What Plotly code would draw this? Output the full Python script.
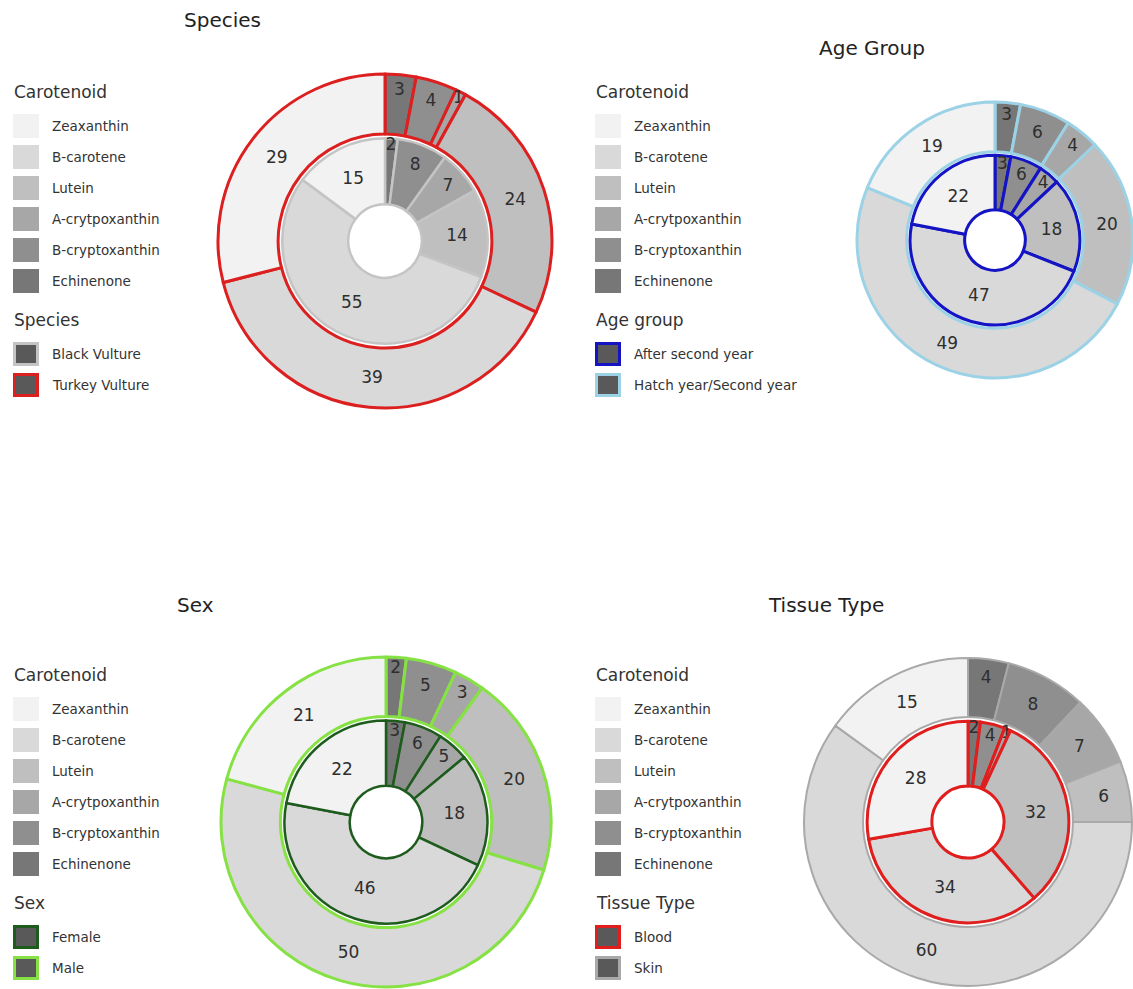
import plotly.graph_objects as go

W, H = 1133, 989
FONT = "DejaVu Sans, Verdana, sans-serif"

# Carotenoids in clockwise drawing order (starting at 12 o'clock)
carotenoids = ["Echinenone", "B-cryptoxanthin", "A-crytpoxanthin", "Lutein", "B-carotene", "Zeaxanthin"]
carotenoid_colors = ["#777777", "#8F8F8F", "#A7A7A7", "#BFBFBF", "#D9D9D9", "#F2F2F2"]

# Percent composition per group (same order as carotenoids)
species_black = [2, 8, 7, 14, 55, 15]
species_turkey = [3, 4, 1, 24, 39, 29]
age_after_second = [3, 6, 4, 18, 47, 22]
age_hatch_second = [3, 6, 4, 20, 49, 19]
sex_female = [3, 6, 5, 18, 46, 22]
sex_male = [2, 5, 3, 20, 50, 21]
tissue_blood = [2, 4, 1, 32, 34, 28]
tissue_skin = [4, 8, 7, 6, 60, 15]

panels = [
    dict(title="Species", title_xy=(222, 20), legend_title="Species",
         center=(385, 241), radius=167, legend_x=12, legend_y=92,
         inner=dict(name="Black Vulture", values=species_black, color="#C4C4C4", width=2.5),
         outer=dict(name="Turkey Vulture", values=species_turkey, color="#DC1F1F", width=3)),
    dict(title="Age Group", title_xy=(872, 48), legend_title="Age group",
         center=(995, 240), radius=138, legend_x=594, legend_y=92,
         inner=dict(name="After second year", values=age_after_second, color="#1414C4", width=3),
         outer=dict(name="Hatch year/Second year", values=age_hatch_second, color="#9CD2E6", width=3)),
    dict(title="Sex", title_xy=(195, 605), legend_title="Sex",
         center=(386, 822), radius=165, legend_x=12, legend_y=675,
         inner=dict(name="Female", values=sex_female, color="#1E5C1E", width=2.5),
         outer=dict(name="Male", values=sex_male, color="#86E244", width=3)),
    dict(title="Tissue Type", title_xy=(826, 605), legend_title="Tissue Type",
         center=(968, 822), radius=164, legend_x=594, legend_y=675,
         inner=dict(name="Blood", values=tissue_blood, color="#E01E1E", width=3),
         outer=dict(name="Skin", values=tissue_skin, color="#A9A9A9", width=2)),
]

OUTER_HOLE = 0.64     # inner edge of outer ring / outer radius
INNER_RING = 0.615    # outer edge of inner ring / outer radius
CENTER_HOLE = 0.22    # central hole / outer radius


def px(x):
    return x / W


def py(y):
    return 1 - y / H


def domain(cx, cy, r):
    return dict(x=[max(0, px(cx - r)), min(1, px(cx + r))],
                y=[max(0, py(cy + r)), min(1, py(cy - r))])


fig = go.Figure()
shapes, annotations = [], []

for p in panels:
    cx, cy = p["center"]
    R = p["radius"]
    r_in = R * INNER_RING
    for ring, r, hole in [("outer", R, OUTER_HOLE), ("inner", r_in, CENTER_HOLE / INNER_RING)]:
        g = p[ring]
        fig.add_trace(go.Pie(
            labels=carotenoids, values=g["values"], name=g["name"],
            domain=domain(cx, cy, r), hole=hole, sort=False,
            direction="clockwise", rotation=0,
            marker=dict(colors=carotenoid_colors, line=dict(color=g["color"], width=g["width"])),
            texttemplate="%{value}", textposition="inside",
            insidetextorientation="horizontal",
            textfont=dict(family=FONT, size=17, color="#2E2E2E"),
            hoverinfo="label+value+name", showlegend=False,
        ))

    # panel title
    tx, ty = p["title_xy"]
    annotations.append(dict(x=px(tx), y=py(ty), xref="paper", yref="paper", text=p["title"],
                            showarrow=False, xanchor="center", yanchor="middle",
                            font=dict(family=FONT, size=20, color="#222222")))

    # legend: carotenoid block
    lx, ly = p["legend_x"], p["legend_y"]
    annotations.append(dict(x=px(lx), y=py(ly), xref="paper", yref="paper", text="Carotenoid",
                            showarrow=False, xanchor="left", yanchor="middle",
                            font=dict(family=FONT, size=17, color="#333333")))
    step = 31
    items = list(zip(carotenoids, carotenoid_colors))[::-1]
    for i, (name, col) in enumerate(items):
        yc = ly + 34 + i * step
        shapes.append(dict(type="rect", xref="paper", yref="paper",
                           x0=px(lx + 1), x1=px(lx + 27), y0=py(yc - 12), y1=py(yc + 12),
                           fillcolor=col, line=dict(width=0)))
        annotations.append(dict(x=px(lx + 38), y=py(yc), xref="paper", yref="paper", text=name,
                                showarrow=False, xanchor="left", yanchor="middle",
                                font=dict(family=FONT, size=13.5, color="#333333")))

    # legend: grouping block
    gy = ly + 228
    annotations.append(dict(x=px(lx), y=py(gy), xref="paper", yref="paper", text=p["legend_title"],
                            showarrow=False, xanchor="left", yanchor="middle",
                            font=dict(family=FONT, size=17, color="#333333")))
    for i, ring in enumerate(["inner", "outer"]):
        g = p[ring]
        yc = gy + 34 + i * step
        shapes.append(dict(type="rect", xref="paper", yref="paper",
                           x0=px(lx + 2.5), x1=px(lx + 25.5), y0=py(yc - 10.5), y1=py(yc + 10.5),
                           fillcolor="#595959", line=dict(color=g["color"], width=3)))
        annotations.append(dict(x=px(lx + 38), y=py(yc), xref="paper", yref="paper", text=g["name"],
                                showarrow=False, xanchor="left", yanchor="middle",
                                font=dict(family=FONT, size=13.5, color="#333333")))

fig.update_layout(
    width=W, height=H, margin=dict(l=0, r=0, t=0, b=0),
    paper_bgcolor="white", plot_bgcolor="white",
    font=dict(family=FONT),
    uniformtext=dict(minsize=17, mode="show"),
    shapes=shapes, annotations=annotations, showlegend=False,
)

fig.write_html("out.html")
